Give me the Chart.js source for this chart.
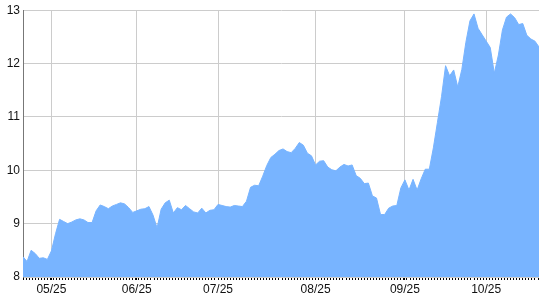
<!DOCTYPE html>
<html lang="en">

<head>
    <meta charset="UTF-8">
    <title>Area chart</title>
    <style>
        html, body {
            margin: 0;
            padding: 0;
            background: #fff;
        }
    </style>
</head>

<body>
    <canvas id="chart" width="540" height="300"></canvas>

    <script src="https://cdn.jsdelivr.net/npm/chart.js"></script>
    <script>
        // Values, one per data point (left to right)
        const values = [
            8.38, 8.29, 8.50, 8.44, 8.35, 8.36, 8.33, 8.49, 8.81, 9.08,
            9.04, 9.00, 9.03, 9.07, 9.09, 9.07, 9.02, 9.02, 9.24, 9.35,
            9.32, 9.28, 9.33, 9.36, 9.39, 9.37, 9.30, 9.21, 9.24, 9.27,
            9.28, 9.32, 9.16, 8.92, 9.27, 9.39, 9.44, 9.20, 9.30, 9.26,
            9.34, 9.28, 9.22, 9.20, 9.29, 9.20, 9.25, 9.26, 9.36, 9.34,
            9.32, 9.31, 9.34, 9.33, 9.32, 9.42, 9.68, 9.72, 9.71, 9.89,
            10.09, 10.24, 10.30, 10.37, 10.40, 10.35, 10.33, 10.41, 10.52, 10.47,
            10.32, 10.27, 10.10, 10.17, 10.18, 10.06, 10.01, 9.99, 10.06, 10.11,
            10.08, 10.10, 9.90, 9.85, 9.75, 9.76, 9.52, 9.48, 9.17, 9.17,
            9.29, 9.33, 9.34, 9.67, 9.82, 9.63, 9.83, 9.63, 9.84, 10.02,
            10.02, 10.42, 10.90, 11.38, 11.96, 11.77, 11.88, 11.56, 11.89, 12.40,
            12.80, 12.93, 12.66, 12.54, 12.42, 12.30, 11.82, 12.16, 12.63, 12.87,
            12.93, 12.86, 12.73, 12.75, 12.53, 12.46, 12.42, 12.31
        ];

        // Index of the first point of each month, and its label
        const monthStarts = [7, 28, 48, 72, 94, 114];
        const monthLabels = ['05/25', '06/25', '07/25', '08/25', '09/25', '10/25'];

        const yTicks = [8, 9, 10, 11, 12, 13];

        const points = values.map((v, i) => ({ x: i, y: v }));
        const lastIndex = values.length - 1;

        const ctx = document.getElementById('chart').getContext('2d');

        new Chart(ctx, {
            type: 'line',
            data: {
                datasets: [{
                    data: points,
                    borderColor: '#78b4ff',
                    backgroundColor: '#78b4ff',
                    borderWidth: 1,
                    pointRadius: 0,
                    tension: 0,
                    fill: 'start'
                }]
            },
            options: {
                responsive: false,
                animation: false,
                layout: {
                    padding: { top: 8, right: 0, left: 0, bottom: 0 }
                },
                plugins: {
                    legend: { display: false },
                    tooltip: { enabled: false }
                },
                scales: {
                    x: {
                        type: 'linear',
                        min: 0,
                        max: lastIndex,
                        afterBuildTicks: function (scale) {
                            // small tick marks along the axis, plus month starts
                            const vals = new Set(monthStarts);
                            for (let v = 0; v <= lastIndex; v += 0.75) vals.add(v);
                            scale.ticks = Array.from(vals).sort((a, b) => a - b).map(v => ({ value: v }));
                        },
                        afterFit: function (scale) {
                            scale.height = 23;
                        },
                        ticks: {
                            autoSkip: false,
                            maxRotation: 0,
                            minRotation: 0,
                            padding: 2,
                            color: '#111',
                            font: { family: 'Arial, "Liberation Sans"', size: 12 },
                            callback: function (value) {
                                const k = monthStarts.indexOf(value);
                                return k >= 0 ? monthLabels[k] : '';
                            }
                        },
                        grid: {
                            color: function (c) {
                                return c.tick && monthStarts.includes(c.tick.value) ? '#cccccc' : 'rgba(0,0,0,0)';
                            },
                            tickColor: '#000',
                            tickLength: 3,
                            lineWidth: 1
                        },
                        border: { display: false }
                    },
                    y: {
                        min: 8,
                        max: 13,
                        afterBuildTicks: function (scale) {
                            scale.ticks = yTicks.map(v => ({ value: v }));
                        },
                        afterFit: function (scale) {
                            scale.width = 23;
                        },
                        ticks: {
                            padding: 3,
                            color: '#111',
                            font: { family: 'Arial, "Liberation Sans"', size: 12 }
                        },
                        grid: {
                            color: '#cccccc',
                            drawTicks: false,
                            lineWidth: 1
                        },
                        border: { color: '#777', width: 1 }
                    }
                }
            }
        });
    </script>
</body>

</html>
